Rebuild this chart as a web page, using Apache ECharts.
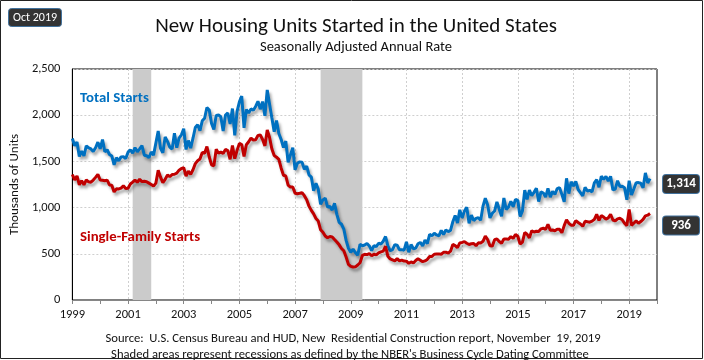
<!DOCTYPE html>
<html>
<head>
<meta charset="utf-8">
<script src="https://cdn.jsdelivr.net/npm/echarts@6/dist/echarts.min.js"></script>
<style>html,body{margin:0;padding:0;background:#fff}#c{width:704px;height:360px}</style>
</head>
<body>
<div id="c"></div>
<script>
// Monthly categories Jan 1999 .. Jan 2020
var startYear = 1999, endYear = 2020;
var months = [];
for (var y = startYear; y <= endYear; y++) {
  for (var m = 1; m <= 12; m++) {
    if (y === endYear && m > 1) break;
    months.push(y + '-' + (m < 10 ? '0' + m : m));
  }
}
// Total housing starts, thousands SAAR (Jan 1999 - Oct 2019)
var totalStarts = [
  1748,1670,1710,1553,1611,1559,1669,1648,1635,1608,1648,1708,
  1636,1737,1604,1626,1575,1559,1463,1541,1507,1549,1551,1532,
  1600,1625,1590,1649,1605,1636,1670,1567,1562,1540,1602,1568,
  1698,1829,1642,1592,1764,1717,1655,1633,1804,1648,1753,1788,
  1853,1629,1726,1643,1751,1867,1897,1833,1939,1967,2083,2057,
  1911,1846,1998,2003,1981,1828,2002,2024,1905,2072,1782,2042,
  2144,2207,1864,2061,2025,2068,2054,2095,2151,2065,2147,1994,
  2273,2119,1969,1821,1942,1802,1737,1650,1720,1491,1570,1649,
  1409,1480,1495,1490,1415,1448,1354,1330,1183,1264,1197,1037,
  1084,1103,1005,1013,973,1046,927,841,820,768,645,560,
  517,550,513,484,603,587,595,612,585,534,588,577,
  614,604,636,687,585,533,546,599,594,543,545,539,
  630,517,600,554,561,608,623,585,650,610,711,694,
  723,704,695,753,708,757,740,754,847,915,833,976,
  888,962,1005,831,919,860,883,891,863,1016,1101,1027,
  888,939,963,1062,982,905,1104,980,1007,1069,1009,1088,
  1077,903,964,1190,1089,1189,1129,1165,1209,1065,1170,1158,
  1114,1208,1113,1175,1143,1206,1216,1143,1062,1317,1151,1280,
  1233,1284,1196,1162,1127,1219,1180,1187,1170,1267,1302,1220,
  1339,1306,1338,1286,1339,1191,1200,1291,1228,1231,1214,1085,
  1291,1136,1201,1270,1271,1263,1215,1375,1266,1314
];
// Single-family housing starts, thousands SAAR
var singleFamilyStarts = [
  1358,1300,1343,1247,1292,1247,1300,1279,1275,1298,1327,1360,
  1299,1296,1290,1297,1245,1243,1170,1203,1202,1211,1236,1207,
  1210,1255,1275,1298,1274,1307,1281,1285,1280,1265,1250,1233,
  1265,1405,1330,1271,1306,1352,1336,1358,1361,1373,1405,1422,
  1433,1341,1395,1359,1410,1476,1507,1526,1596,1588,1660,1548,
  1463,1452,1631,1589,1600,1586,1630,1618,1522,1673,1530,1619,
  1695,1682,1554,1680,1713,1753,1730,1735,1781,1785,1737,1668,
  1840,1759,1635,1563,1546,1522,1426,1350,1342,1244,1222,1224,
  1156,1150,1155,1162,1129,1084,1016,970,932,882,854,760,
  734,693,674,687,682,654,627,597,557,533,466,386,
  364,358,359,379,403,482,494,491,502,479,496,488,
  509,521,529,582,473,444,434,424,448,423,432,421,
  420,397,412,401,427,447,431,415,423,439,471,472,
  495,497,499,495,516,517,506,528,601,589,566,618,
  623,632,614,601,609,612,587,619,617,635,692,655,
  586,583,653,661,633,615,661,660,658,686,667,709,
  690,604,626,730,711,672,749,736,744,742,770,777,
  765,819,754,757,749,767,765,728,805,869,830,810,
  808,859,839,823,798,852,848,842,853,873,927,861,
  913,898,876,889,928,866,856,878,884,869,830,805,
  980,808,831,856,830,849,872,911,918,936
];
var recessions = [['2001-03','2001-11'],['2007-12','2009-06']];
var yTicks = [0, 500, 1000, 1500, 2000, 2500];

var font = 'Carlito, Lato, sans-serif';
var chart = echarts.init(document.getElementById('c'));

function endLbl(offY) {
  return {
    show: true,
    position: 'right',
    distance: 11,
    offset: [20, offY],
    formatter: function (p) { return echarts.format.addCommas(p.value); },
    color: '#fff',
    fontFamily: font,
    fontWeight: 'bold',
    fontSize: 13,
    backgroundColor: '#333',
    borderColor: '#41719c',
    borderWidth: 1,
    borderRadius: 3,
    width: 28,
    align: 'center',
    padding: [3, 4, 2, 4]
  };
}

chart.setOption({
  animation: false,
  title: [
    { text: 'New Housing Units Started in the United States', left: 351, textAlign: 'center', top: 11,
      textStyle: { fontFamily: font, fontSize: 21, fontWeight: 'normal', color: '#111' } },
    { text: 'Seasonally Adjusted Annual Rate', left: 351, textAlign: 'center', top: 35,
      textStyle: { fontFamily: font, fontSize: 14.5, fontWeight: 'normal', color: '#111' } },
    { text: 'Oct 2019', left: 8, top: 8, backgroundColor: '#333', borderColor: '#41719c', borderWidth: 1,
      borderRadius: 3, padding: [4, 5, 3, 5],
      textStyle: { fontFamily: font, fontSize: 12, fontWeight: 'normal', color: '#fff' } },
    { text: 'Source:  U.S. Census Bureau and HUD, New  Residential Construction report, November  19, 2019',
      left: 348, textAlign: 'center', top: 327,
      textStyle: { fontFamily: font, fontSize: 12.6, fontWeight: 'normal', color: '#111' } },
    { text: "Shaded areas represent recessions as defined by the NBER's Business Cycle Dating Committee",
      left: 345, textAlign: 'center', top: 343,
      textStyle: { fontFamily: font, fontSize: 12.6, fontWeight: 'normal', color: '#111' } }
  ],
  graphic: [
    { type: 'rect', shape: { x: 0.5, y: 0.5, width: 702, height: 358 }, style: { fill: 'none', stroke: '#222', lineWidth: 1 }, z: 100 },
    { type: 'text', left: 80, top: 91, z: 100, style: { text: 'Total Starts', fill: '#0070c0', font: 'bold 14.8px ' + font } },
    { type: 'text', left: 80, top: 230, z: 100, style: { text: 'Single-Family Starts', fill: '#c00000', font: 'bold 14.8px ' + font } }
  ],
  grid: { left: 70, right: 47, top: 69, bottom: 60, show: true, borderColor: '#000', borderWidth: 1, backgroundColor: 'transparent' },
  xAxis: {
    type: 'category',
    data: months,
    boundaryGap: false,
    axisLine: { lineStyle: { color: '#868686', width: 1 } },
    axisTick: { show: true, length: 4, lineStyle: { color: '#868686' },
      interval: function (i) { return i % 12 === 0; } },
    axisLabel: { interval: function (i) { return i % 24 === 0; },
      formatter: function (v) { return v.slice(0, 4); },
      color: '#111', fontFamily: font, fontSize: 12.5, margin: 8 },
    splitLine: { show: true, interval: function (i) { return i % 24 === 0 && i > 0; },
      lineStyle: { color: '#cfcfcf', type: [2, 2] } }
  },
  yAxis: {
    type: 'value', min: yTicks[0], max: yTicks[yTicks.length - 1], interval: 500,
    name: 'Thousands of Units', nameLocation: 'middle', nameGap: 48, nameRotate: 90,
    nameTextStyle: { fontFamily: font, fontSize: 13, color: '#111' },
    axisLine: { show: true, lineStyle: { color: '#000' } },
    axisTick: { show: false },
    axisLabel: { formatter: function (v) { return echarts.format.addCommas(v); },
      color: '#111', fontFamily: font, fontSize: 12.5, margin: 12 },
    splitLine: { lineStyle: { color: '#cfcfcf', type: [2, 2] } }
  },
  series: [
    {
      name: 'Total Starts', type: 'line', data: totalStarts, showSymbol: false, symbol: 'none',
      lineStyle: { color: '#0070c0', width: 3, shadowColor: 'rgba(0,0,0,0.35)', shadowBlur: 3, shadowOffsetX: 2, shadowOffsetY: 3 },
      itemStyle: { color: '#0070c0' },
      endLabel: endLbl(5.5),
      markArea: { silent: true, itemStyle: { color: '#cbcbcb' },
        data: recessions.map(function (r) { return [{ xAxis: r[0] }, { xAxis: r[1] }]; }) },
      z: 3
    },
    {
      name: 'Single-Family Starts', type: 'line', data: singleFamilyStarts, showSymbol: false, symbol: 'none',
      lineStyle: { color: '#c00000', width: 3, shadowColor: 'rgba(0,0,0,0.35)', shadowBlur: 3, shadowOffsetX: 2, shadowOffsetY: 3 },
      itemStyle: { color: '#c00000' },
      endLabel: endLbl(12),
      z: 3
    }
  ]
});
</script>
</body>
</html>
